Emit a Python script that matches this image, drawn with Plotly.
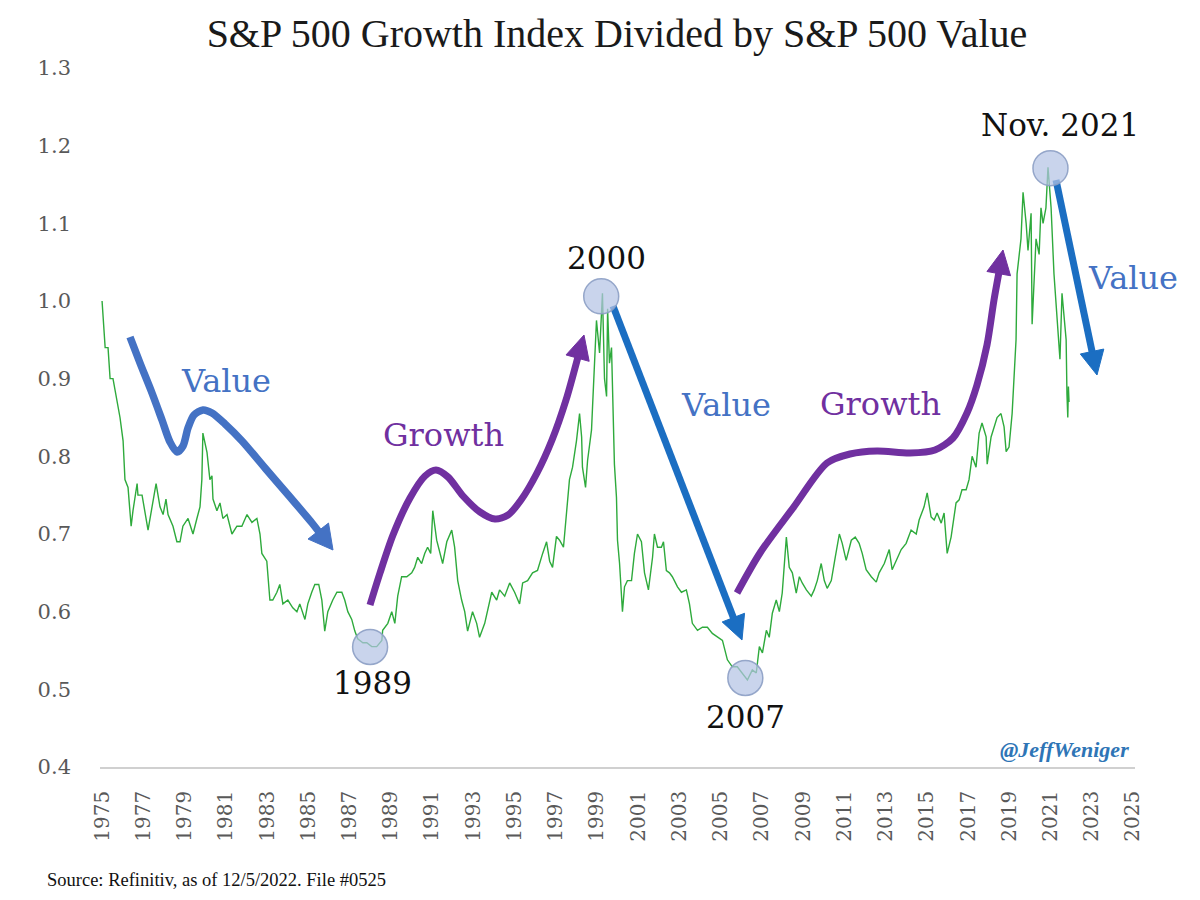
import plotly.graph_objects as go

# ---------------- data ----------------
years = [
    1975.00, 1975.06, 1975.15, 1975.29, 1975.39, 1975.53, 1975.73, 1975.87, 1976.02, 1976.11,
    1976.26, 1976.41, 1976.50, 1976.70, 1976.74, 1976.94, 1977.23, 1977.42, 1977.62, 1977.81,
    1977.96, 1978.10, 1978.20, 1978.44, 1978.63, 1978.78, 1978.92, 1979.17, 1979.41, 1979.60,
    1979.75, 1979.84, 1979.89, 1980.09, 1980.23, 1980.33, 1980.38, 1980.57, 1980.72, 1980.86,
    1981.06, 1981.30, 1981.54, 1981.78, 1982.03, 1982.27, 1982.51, 1982.66, 1982.75, 1982.99,
    1983.14, 1983.28, 1983.48, 1983.62, 1983.77, 1984.01, 1984.25, 1984.45, 1984.59, 1984.84,
    1984.98, 1985.17, 1985.32, 1985.51, 1985.66, 1985.80, 1985.95, 1986.19, 1986.39, 1986.63,
    1986.77, 1986.92, 1987.11, 1987.26, 1987.40, 1987.65, 1987.84, 1988.08, 1988.32, 1988.57,
    1988.61, 1988.86, 1989.05, 1989.20, 1989.34, 1989.53, 1989.78, 1990.02, 1990.16, 1990.31,
    1990.50, 1990.65, 1990.79, 1990.94, 1991.04, 1991.23, 1991.38, 1991.52, 1991.72, 1991.96,
    1992.10, 1992.25, 1992.44, 1992.59, 1992.73, 1992.97, 1993.17, 1993.31, 1993.56, 1993.70,
    1993.90, 1994.14, 1994.28, 1994.53, 1994.77, 1995.01, 1995.25, 1995.40, 1995.64, 1995.88,
    1996.12, 1996.37, 1996.56, 1996.71, 1996.85, 1997.04, 1997.19, 1997.38, 1997.53, 1997.67,
    1997.82, 1998.01, 1998.16, 1998.26, 1998.30, 1998.45, 1998.55, 1998.74, 1998.79, 1998.89,
    1998.98, 1999.13, 1999.27, 1999.37, 1999.47, 1999.52, 1999.61, 1999.71, 1999.76, 1999.85,
    1999.95, 2000.00, 2000.10, 2000.24, 2000.34, 2000.48, 2000.68, 2000.82, 2000.97, 2001.16,
    2001.31, 2001.50, 2001.70, 2001.79, 2001.94, 2002.13, 2002.23, 2002.37, 2002.52, 2002.66,
    2002.91, 2003.10, 2003.34, 2003.49, 2003.63, 2003.88, 2004.12, 2004.36, 2004.60, 2004.84,
    2005.09, 2005.33, 2005.57, 2005.81, 2006.06, 2006.30, 2006.54, 2006.73, 2006.88, 2007.03,
    2007.22, 2007.36, 2007.51, 2007.70, 2007.85, 2007.99, 2008.19, 2008.33, 2008.48, 2008.67,
    2008.82, 2008.96, 2009.16, 2009.40, 2009.54, 2009.69, 2009.88, 2010.03, 2010.17, 2010.37,
    2010.56, 2010.76, 2010.90, 2011.09, 2011.34, 2011.53, 2011.72, 2011.87, 2012.06, 2012.31,
    2012.55, 2012.69, 2012.94, 2013.18, 2013.32, 2013.52, 2013.76, 2014.00, 2014.24, 2014.49,
    2014.63, 2014.87, 2015.02, 2015.21, 2015.36, 2015.50, 2015.70, 2015.84, 2015.99, 2016.18,
    2016.42, 2016.57, 2016.71, 2016.91, 2017.05, 2017.20, 2017.39, 2017.54, 2017.68, 2017.88,
    2017.93, 2018.12, 2018.27, 2018.41, 2018.60, 2018.75, 2018.85, 2018.99, 2019.14, 2019.23,
    2019.33, 2019.38, 2019.57, 2019.67, 2019.82, 2019.91, 2020.06, 2020.11, 2020.30, 2020.45,
    2020.54, 2020.64, 2020.78, 2020.88, 2021.03, 2021.17, 2021.32, 2021.46, 2021.56, 2021.71,
    2021.76, 2021.80, 2021.84, 2021.87, 2021.90,
]
ratio = [
    1.000, 0.970, 0.940, 0.940, 0.900, 0.900, 0.870, 0.850, 0.820, 0.770,
    0.760, 0.710, 0.730, 0.765, 0.750, 0.750, 0.705, 0.735, 0.765, 0.735,
    0.725, 0.745, 0.725, 0.710, 0.690, 0.690, 0.710, 0.720, 0.700, 0.720,
    0.735, 0.770, 0.830, 0.805, 0.770, 0.775, 0.745, 0.730, 0.740, 0.720,
    0.725, 0.700, 0.710, 0.710, 0.725, 0.715, 0.720, 0.700, 0.675, 0.665,
    0.615, 0.615, 0.625, 0.635, 0.610, 0.615, 0.605, 0.600, 0.610, 0.590,
    0.610, 0.625, 0.635, 0.635, 0.615, 0.575, 0.600, 0.615, 0.625, 0.625,
    0.615, 0.600, 0.590, 0.575, 0.565, 0.560, 0.560, 0.555, 0.555, 0.563,
    0.576, 0.585, 0.600, 0.585, 0.620, 0.645, 0.645, 0.650, 0.657, 0.670,
    0.662, 0.675, 0.683, 0.675, 0.730, 0.692, 0.675, 0.662, 0.690, 0.705,
    0.683, 0.640, 0.615, 0.600, 0.575, 0.600, 0.585, 0.567, 0.585, 0.600,
    0.625, 0.615, 0.628, 0.620, 0.637, 0.625, 0.610, 0.637, 0.640, 0.650,
    0.653, 0.675, 0.690, 0.665, 0.657, 0.697, 0.692, 0.683, 0.727, 0.770,
    0.786, 0.820, 0.855, 0.825, 0.786, 0.760, 0.795, 0.834, 0.864, 0.930,
    0.975, 0.933, 1.010, 0.900, 0.877, 0.990, 0.920, 0.940, 0.877, 0.790,
    0.747, 0.692, 0.662, 0.600, 0.632, 0.640, 0.640, 0.675, 0.700, 0.690,
    0.650, 0.628, 0.670, 0.700, 0.683, 0.683, 0.690, 0.653, 0.650, 0.645,
    0.632, 0.625, 0.628, 0.610, 0.585, 0.576, 0.580, 0.580, 0.572, 0.567,
    0.563, 0.538, 0.529, 0.529, 0.521, 0.512, 0.525, 0.521, 0.555, 0.547,
    0.576, 0.567, 0.598, 0.615, 0.600, 0.624, 0.696, 0.657, 0.650, 0.624,
    0.645, 0.637, 0.628, 0.620, 0.628, 0.640, 0.662, 0.640, 0.630, 0.640,
    0.670, 0.700, 0.688, 0.666, 0.692, 0.696, 0.688, 0.675, 0.654, 0.645,
    0.638, 0.650, 0.662, 0.680, 0.654, 0.666, 0.680, 0.688, 0.705, 0.700,
    0.718, 0.735, 0.753, 0.722, 0.718, 0.727, 0.714, 0.727, 0.675, 0.696,
    0.740, 0.744, 0.757, 0.757, 0.770, 0.800, 0.786, 0.830, 0.843, 0.825,
    0.790, 0.825, 0.838, 0.850, 0.855, 0.838, 0.806, 0.812, 0.855, 0.900,
    0.950, 1.035, 1.080, 1.140, 1.100, 1.065, 1.113, 0.970, 1.080, 1.060,
    1.120, 1.100, 1.120, 1.172, 1.120, 1.035, 0.970, 0.925, 1.010, 0.970,
    0.950, 0.880, 0.850, 0.890, 0.870,
]

x_tick_years = list(range(1975, 2026, 2))
y_tick_values = [0.4, 0.5, 0.6, 0.7, 0.8, 0.9, 1.0, 1.1, 1.2, 1.3]

# highlighted turning points
turn_years = [1988.0, 1999.21, 2006.2, 2021.0]
turn_ratio = [0.5545, 1.006, 0.5146, 1.171]

# ---------------- layout geometry (page pixels) ----------------
OFF = 8                      # default page margin around the plot div
W, H = 1200 - 2 * OFF, 900 - 2 * OFF
PL, PR, PT, PB = 100, 1135, 68, 767
X_RANGE = [1974.9, 2025.1]
Y_RANGE = [0.4, 1.3]


def to_data(px, py):
    x = X_RANGE[0] + (px - PL) / (PR - PL) * (X_RANGE[1] - X_RANGE[0])
    y = Y_RANGE[0] + (PB - py) / (PB - PT) * (Y_RANGE[1] - Y_RANGE[0])
    return x, y


def to_paper(px, py):
    return (px - PL) / (PR - PL), (PB - py) / (PB - PT)


fig = go.Figure()

# main series
fig.add_trace(go.Scatter(
    x=years, y=ratio, mode="lines",
    line=dict(color="#2EAA3C", width=1.4),
    hoverinfo="skip", showlegend=False,
))

# ---------------- decorative arrows (pixel geometry) ----------------
BLUE1 = "#4472C4"
BLUE2 = "#1B6EC2"
PURPLE = "#7030A0"

arrows = [
    dict(pts=[(130, 337), (140, 363), (152, 393), (162, 420), (170, 442), (177, 452),
              (183, 446), (188, 428), (194, 415), (203, 410), (212, 413), (225, 424),
              (242, 441), (265, 468), (290, 497), (312, 523)],
         tip=(333, 550), color=BLUE1, width=7.5, hl=24, hw=26),
    dict(pts=[(370, 605), (380, 573), (393, 535), (410, 498), (425, 476), (436, 470),
              (448, 477), (463, 496), (480, 512), (495, 519), (508, 515), (521, 500),
              (537, 473), (552, 440), (566, 400)],
         tip=(584, 335), color=PURPLE, width=7, hl=24, hw=24),
    dict(pts=[(613, 306)], tip=(742, 640), color=BLUE2, width=7, hl=24, hw=24),
    dict(pts=[(737, 593), (760, 553), (793, 508), (827, 463), (850, 454), (877, 451),
              (910, 453), (935, 450), (953, 438), (967, 413), (977, 385), (987, 345),
              (994, 300)],
         tip=(1003, 250), color=PURPLE, width=7, hl=24, hw=24),
    dict(pts=[(1056, 180)], tip=(1097, 375), color=BLUE2, width=7, hl=24, hw=24),
]

for a in arrows:
    tx, ty = a["tip"]
    lx, ly = a["pts"][-1]
    dx, dy = tx - lx, ty - ly
    n = (dx * dx + dy * dy) ** 0.5
    ux, uy = dx / n, dy / n
    bx, by = tx - ux * a["hl"], ty - uy * a["hl"]
    pts = list(a["pts"])
    pts.append((bx + ux * 4, by + uy * 4))
    d = [to_data(p[0], p[1]) for p in pts]
    fig.add_trace(go.Scatter(
        x=[p[0] for p in d], y=[p[1] for p in d], mode="lines",
        line=dict(color=a["color"], width=a["width"], shape="spline", smoothing=0.8),
        hoverinfo="skip", showlegend=False,
    ))
    nx, ny = -uy, ux
    hw = a["hw"] / 2
    tri = [(tx, ty), (bx + nx * hw, by + ny * hw), (bx - nx * hw, by - ny * hw), (tx, ty)]
    td = [to_data(p[0], p[1]) for p in tri]
    fig.add_trace(go.Scatter(
        x=[p[0] for p in td], y=[p[1] for p in td], mode="lines",
        fill="toself", fillcolor=a["color"],
        line=dict(color=a["color"], width=1),
        hoverinfo="skip", showlegend=False,
    ))

# highlight circles
fig.add_trace(go.Scatter(
    x=turn_years, y=turn_ratio, mode="markers",
    marker=dict(size=35, color="rgba(180,196,228,0.72)",
                line=dict(color="rgba(140,158,196,0.9)", width=1.5)),
    hoverinfo="skip", showlegend=False,
))

# ---------------- text annotations ----------------
annots = []


def add_text(txt, px, py, color, size, family="DejaVu Serif"):
    xd, yd = to_data(px, py)
    annots.append(dict(
        x=xd, y=yd, xref="x", yref="y", text=txt, showarrow=False,
        xanchor="center", yanchor="middle",
        font=dict(family=family, size=size, color=color),
    ))


add_text("Value", 226, 381, BLUE1, 32)
add_text("Growth", 443, 435, PURPLE, 32)
add_text("Value", 726, 405, BLUE1, 32)
add_text("Growth", 880, 404, PURPLE, 32)
add_text("Value", 1133, 278, BLUE1, 32)
add_text("2000", 606, 258, "#111111", 31)
add_text("1989", 372, 683, "#111111", 31)
add_text("2007", 745, 717, "#111111", 31)
add_text("Nov. 2021", 1060, 125, "#111111", 31)

sx, sy = to_paper(45, 880)
annots.append(dict(
    x=sx, y=sy, xref="paper", yref="paper", showarrow=False,
    text="Source: Refinitiv, as of 12/5/2022. File #0525",
    xanchor="left", yanchor="middle",
    font=dict(family="Liberation Serif", size=18.5, color="#111111"),
))
wx, wy = to_paper(1064, 749)
annots.append(dict(
    x=wx, y=wy, xref="paper", yref="paper", showarrow=False,
    text="<b><i>@JeffWeniger</i></b>",
    xanchor="center", yanchor="middle",
    font=dict(family="Liberation Serif", size=22, color="#2E75B6"),
))

fig.update_layout(
    width=W, height=H,
    margin=dict(l=PL - OFF, r=W - (PR - OFF), t=PT - OFF, b=H - (PB - OFF), pad=0),
    paper_bgcolor="white", plot_bgcolor="white",
    showlegend=False,
    title=dict(
        text="S&P 500 Growth Index Divided by S&P 500 Value",
        x=(617 - OFF) / W, y=1 - (33 - OFF) / H, xref="container", yref="container",
        xanchor="center", yanchor="middle",
        font=dict(family="Liberation Serif", size=40, color="#1a1a1a"),
    ),
    annotations=annots,
    xaxis=dict(
        range=X_RANGE, tickmode="array", tickvals=x_tick_years,
        ticktext=[str(y) for y in x_tick_years], tickangle=-90,
        showgrid=False, zeroline=False, showline=True,
        linecolor="#D0D0D0", linewidth=1.5, ticks="",
        tickfont=dict(family="DejaVu Serif", size=20, color="#595959"),
        ticklabelstandoff=14,
    ),
    yaxis=dict(
        range=Y_RANGE, tickmode="array", tickvals=y_tick_values,
        ticktext=[f"{v:.1f}" for v in y_tick_values],
        showgrid=False, zeroline=False, showline=False, ticks="",
        tickfont=dict(family="DejaVu Serif", size=21, color="#595959"),
        ticklabelstandoff=28,
    ),
)

fig.write_html("out.html")
